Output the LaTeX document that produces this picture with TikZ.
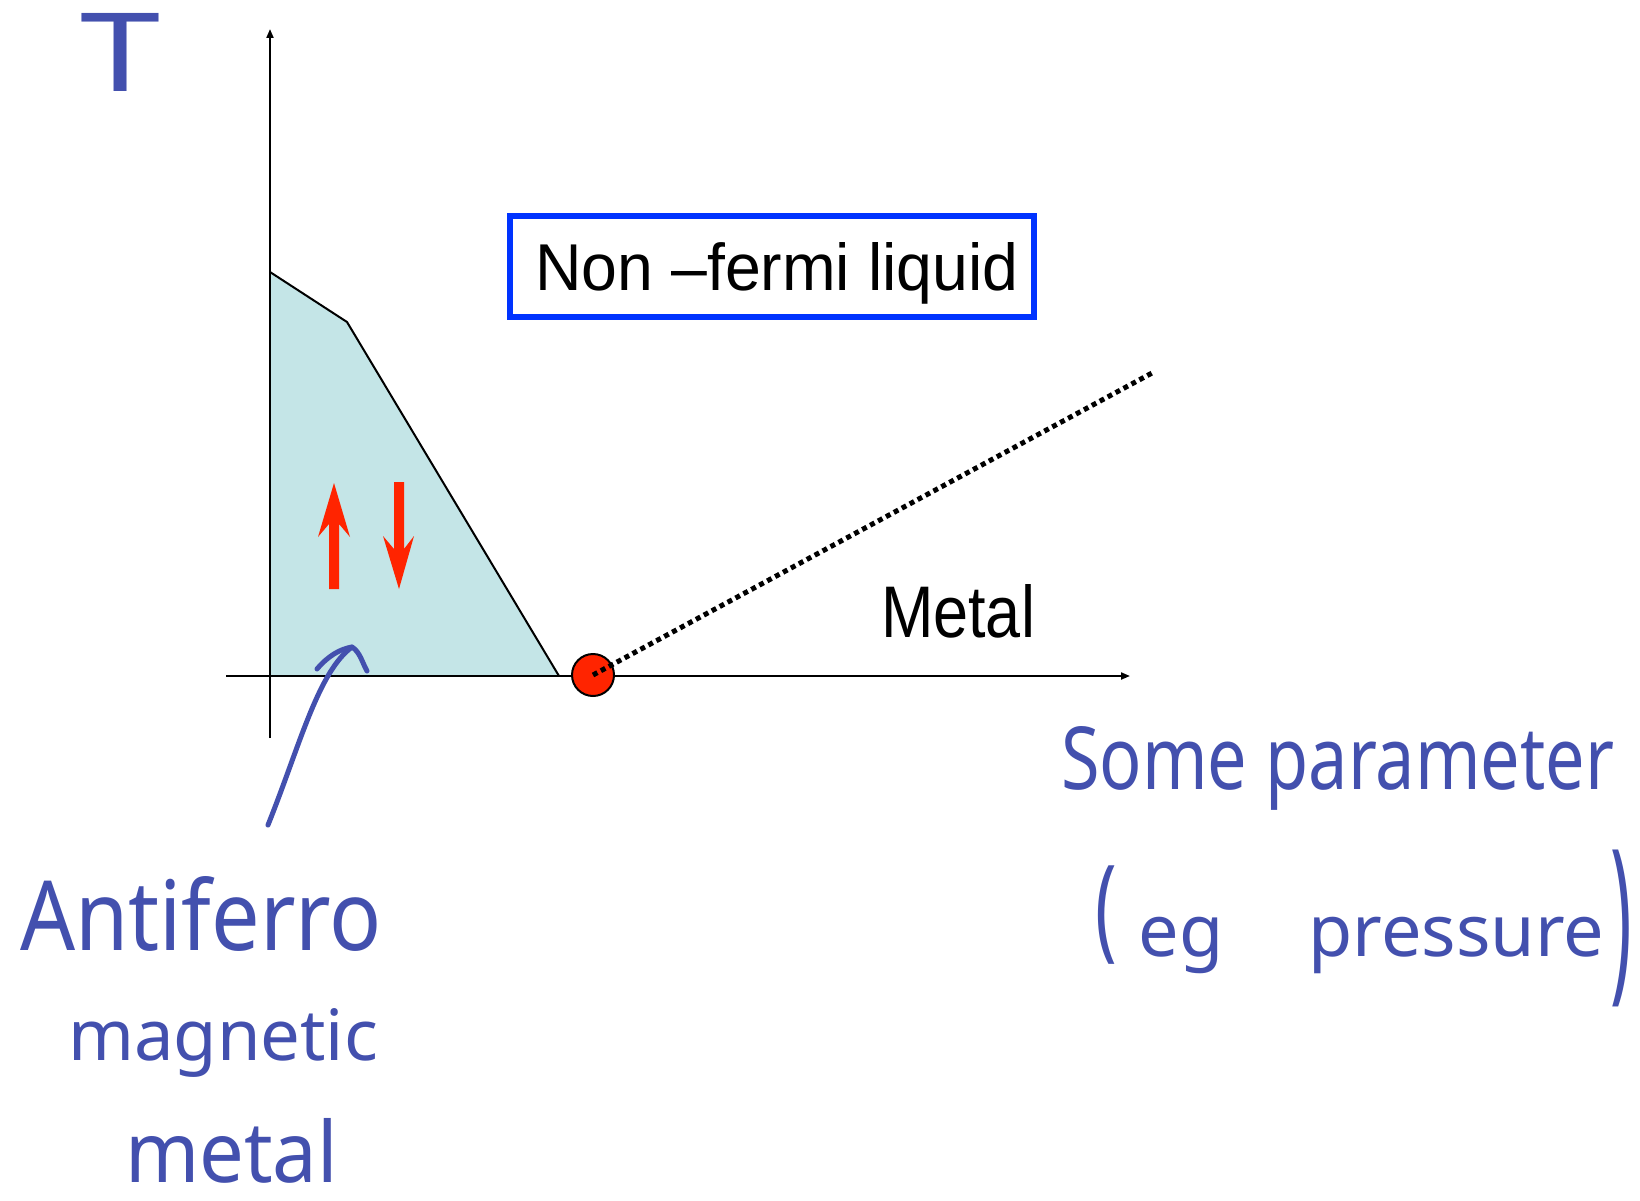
\documentclass[tikz,border=0pt]{standalone}
\usepackage{fontspec}
\setmainfont{Liberation Sans}
\newfontfamily\handfont{Noto Sans}
\usetikzlibrary{arrows.meta}
\definecolor{hand}{RGB}{67,80,174}
\definecolor{afmfill}{RGB}{196,229,231}
\definecolor{spinred}{RGB}{255,36,0}
\definecolor{boxblue}{RGB}{0,51,255}
\begin{document}
\begin{tikzpicture}[x=1pt,y=-1pt,
  axis/.style={line width=2pt,-{Triangle[length=9pt,width=7pt]}},
  hw/.style={text=hand, anchor=base west, inner sep=0pt, outer sep=0pt, font=\handfont},
  hstroke/.style={draw=hand, line width=5pt, line cap=round, line join=round},
  spin/.style={fill=spinred, draw=none},
  plain/.style={anchor=base west, inner sep=0pt, outer sep=0pt}]
\useasboundingbox[fill=white] (0,0) rectangle (1640,1201);
% antiferromagnetic region
\fill[afmfill] (270,272) -- (347,322) -- (559,676) -- (270,676) -- cycle;
\draw[line width=2pt, line join=round] (270,272) -- (347,322) -- (559,676);
% axes
\coordinate (yb) at (270,738); \coordinate (yt) at (270,29);
\coordinate (xl) at (226,676); \coordinate (xr) at (1130,676);
\draw[axis] (yb) -- (yt);
\draw[axis] (xl) -- (xr);
% spins
\fill[spin] (334,483) -- (350,537) -- (339,524) -- (339,589) -- (329,589) -- (329,524) -- (318,537) -- cycle;
\fill[spin] (399,589) -- (414,536) -- (404,549) -- (404,482) -- (394,482) -- (394,549) -- (383,536) -- cycle;
% quantum critical point and crossover line
\node[circle, draw, line width=2pt, fill=spinred, minimum size=42pt, inner sep=0pt] (qcp) at (593,675) {};
\coordinate (crossend) at (1152,373);
\draw[line width=5pt, dash pattern=on 5pt off 4pt] (qcp.center) -- (crossend);
% labels
\node[draw=boxblue, line width=6pt, minimum width=524pt, minimum height=101pt, text height=48pt, text depth=0pt, inner sep=0pt] (nfl) at (772,266.5) {\hspace{10pt}\resizebox{483pt}{48pt}{Non –fermi liquid}};
\node[plain] (metal) at (881,637) {\resizebox{154pt}{53pt}{Metal}};
% handwritten
\node[hw] (tlab) at (80,92) {\resizebox{80pt}{78pt}{T}};
\node[hw] (afm1) at (20,950) {\resizebox{362pt}{74pt}{Antiferro}};
\node[hw] (afm2) at (68,1060) {\resizebox{310pt}{52pt}{magnetic}};
\node[hw] (afm3) at (125,1182) {\resizebox{213pt}{64pt}{metal}};
\node[hw] (par1) at (1061,789) {\resizebox{553pt}{63pt}{Some parameter}};
\node[hw, font=\handfont\fontsize{72pt}{86pt}\selectfont] (par2) at (1095,956) {\raisebox{10pt}{\scalebox{1}[1.57]{(}}\hspace{22pt}eg\hspace{85pt}pressure\hspace{6pt}\raisebox{-22pt}{\scalebox{1}[2.5]{)}}};
% handwritten arrow
\coordinate (hs) at (268,825); \coordinate (ht) at (352,647);
\draw[hstroke] (hs) .. controls (300,745) and (318,672) .. (ht);
\draw[hstroke] (317,669) .. controls (328,656) and (340,649) .. (ht) .. controls (360,652) and (362,662) .. (367,671);
\end{tikzpicture}
\end{document}
